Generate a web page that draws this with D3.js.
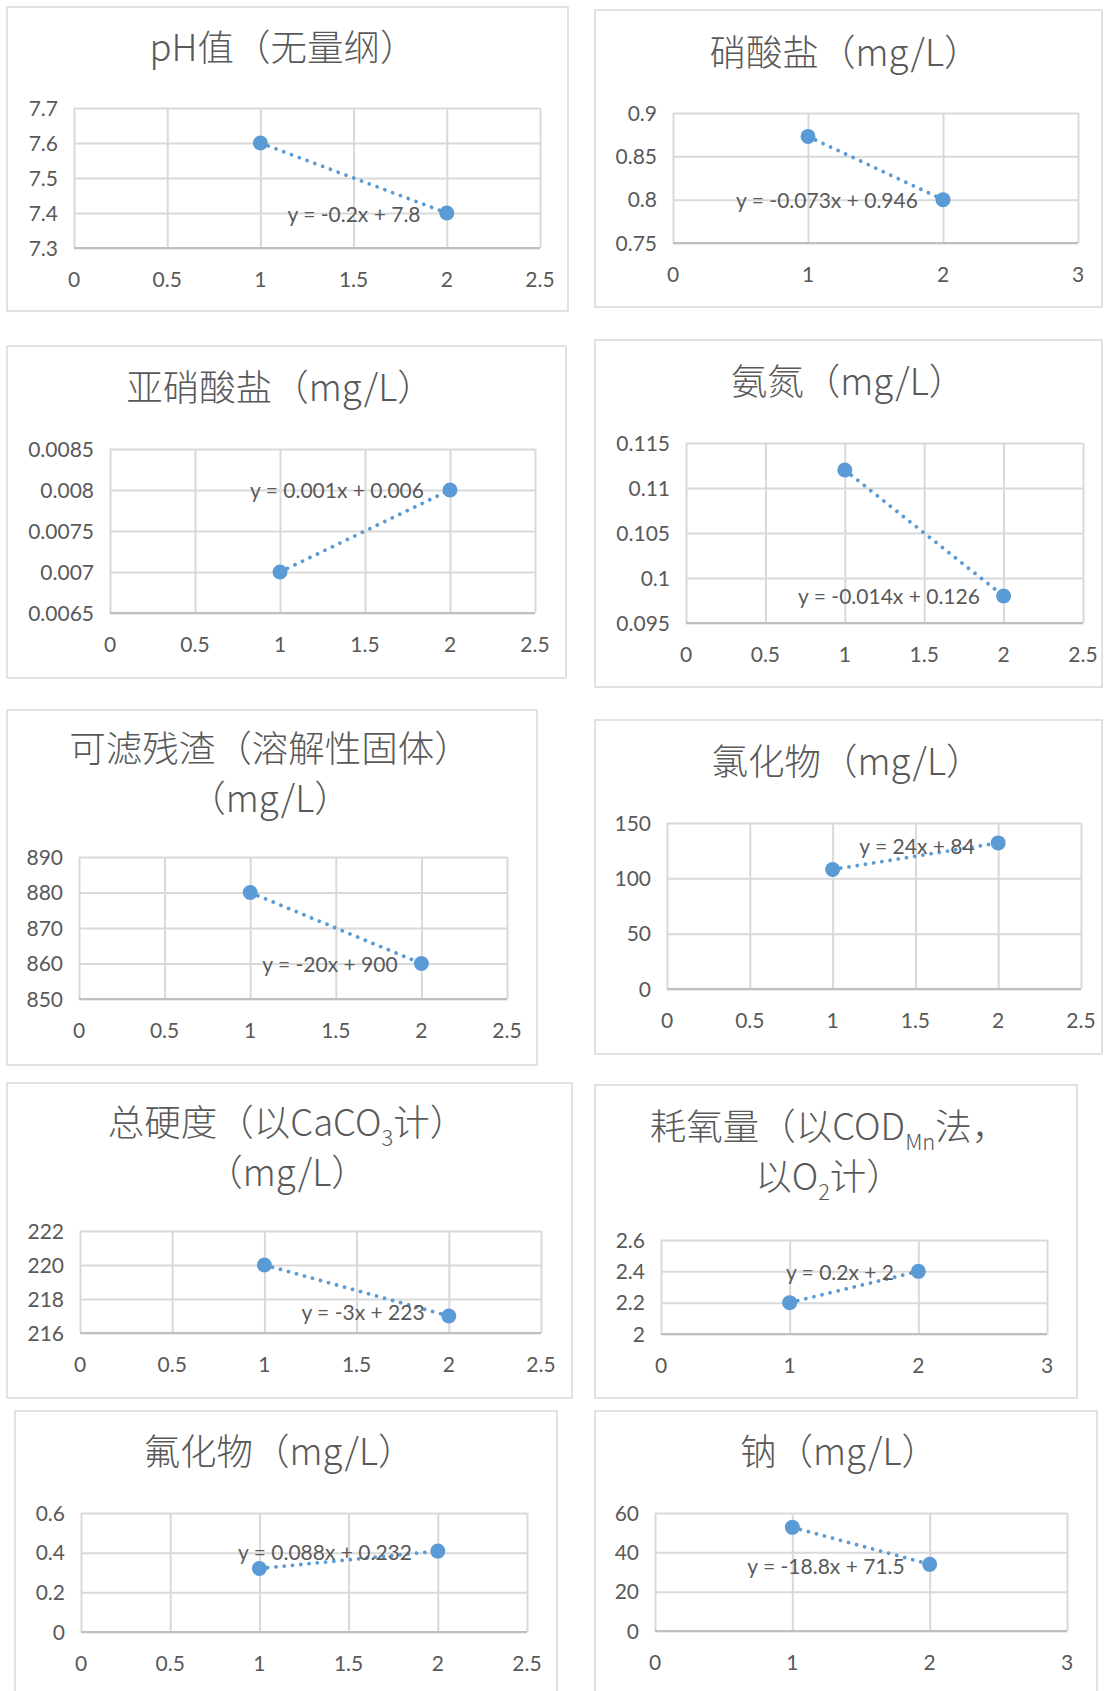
<!DOCTYPE html>
<html>
<head>
<meta charset="utf-8">
<script src="https://cdn.jsdelivr.net/npm/d3@7"></script>
<style>
  html, body { margin: 0; padding: 0; background: #ffffff; }
  svg { display: block; }
</style>
</head>
<body>
<svg id="chart" width="1105" height="1691"></svg>
<script>
// ---------------- DATA ----------------
const titles = [
  ["pH值（无量纲）"],
  ["硝酸盐（mg/L）"],
  ["亚硝酸盐（mg/L）"],
  ["氨氮（mg/L）"],
  ["可滤残渣（溶解性固体）", "（mg/L）"],
  ["氯化物（mg/L）"],
  ["总硬度（以CaCO_{3}计）", "（mg/L）"],
  ["耗氧量（以COD_{Mn}法，", "以O_{2}计）"],
  ["氟化物（mg/L）"],
  ["钠（mg/L）"]
];
const xValues = [1, 2];
const yValues = [
  [7.6, 7.4],
  [0.873, 0.8],
  [0.007, 0.008],
  [0.112, 0.098],
  [880, 860],
  [108, 132],
  [220, 217],
  [2.2, 2.4],
  [0.32, 0.408],
  [52.7, 33.9]
];
const xTickSets = [
  [0, 0.5, 1, 1.5, 2, 2.5],
  [0, 1, 2, 3],
  [0, 0.5, 1, 1.5, 2, 2.5],
  [0, 0.5, 1, 1.5, 2, 2.5],
  [0, 0.5, 1, 1.5, 2, 2.5],
  [0, 0.5, 1, 1.5, 2, 2.5],
  [0, 0.5, 1, 1.5, 2, 2.5],
  [0, 1, 2, 3],
  [0, 0.5, 1, 1.5, 2, 2.5],
  [0, 1, 2, 3]
];
const yTickSets = [
  [7.3, 7.4, 7.5, 7.6, 7.7],
  [0.75, 0.8, 0.85, 0.9],
  [0.0065, 0.007, 0.0075, 0.008, 0.0085],
  [0.095, 0.1, 0.105, 0.11, 0.115],
  [850, 860, 870, 880, 890],
  [0, 50, 100, 150],
  [216, 218, 220, 222],
  [2, 2.2, 2.4, 2.6],
  [0, 0.2, 0.4, 0.6],
  [0, 20, 40, 60]
];
const equations = [
  "y = -0.2x + 7.8",
  "y = -0.073x + 0.946",
  "y = 0.001x + 0.006",
  "y = -0.014x + 0.126",
  "y = -20x + 900",
  "y = 24x + 84",
  "y = -3x + 223",
  "y = 0.2x + 2",
  "y = 0.088x + 0.232",
  "y = -18.8x + 71.5"
];

// ---------------- LAYOUT (pixels) ----------------
const layout = [
  {box:[7,7,568,311],     plot:[74,108,540,248],   tcx:283, tcy:[48],        eq:[354,214]},
  {box:[595,10,1102,307], plot:[673,113,1078,243], tcx:845, tcy:[53],        eq:[827,200]},
  {box:[7,346,566,678],   plot:[110,449,535,613],  tcx:280, tcy:[388],       eq:[337,490]},
  {box:[595,340,1102,687],plot:[686,443,1083,623], tcx:848, tcy:[382],       eq:[889,596]},
  {box:[7,710,537,1065],  plot:[79,857,507,999],   tcx:270, tcy:[749,799],   eq:[330,964]},
  {box:[595,720,1102,1054],plot:[667,823,1081,989],tcx:847, tcy:[762],       eq:[917,846]},
  {box:[7,1083,572,1398], plot:[80,1231,541,1333], tcx:287, tcy:[1123,1173], eq:[363,1312]},
  {box:[595,1085,1077,1398],plot:[661,1240,1047,1334],tcx:829, tcy:[1127,1177], eq:[840,1272]},
  {box:[15,1411,557,1720], plot:[81,1513,527,1632], tcx:279, tcy:[1452],      eq:[325,1552]},
  {box:[595,1411,1097,1720],plot:[655,1513,1067,1631],tcx:839, tcy:[1452],    eq:[826,1566]}
];

const COLOR = "#5B9BD5";
const GRID = "#D9D9D9";
const TEXT = "#595959";
const NUMFONT = "Lato, 'Open Sans', sans-serif";
const CJKFONT = "'Noto Sans CJK SC', 'Noto Sans', sans-serif";
const TITLE_FS = 36.5;
const TICK_FS = 21;
const EQ_FS = 21;

const svg = d3.select("#chart");
svg.append("rect").attr("width", 1105).attr("height", 1691).attr("fill", "#fff");

// appends a line of text (with _{sub} markup) to a <text>, starting a new line at (x, y)
function addRichLine(textSel, str, fs, x0, y0) {
  const parts = str.split(/(_\{[^}]*\})/).filter(s => s.length);
  let first = true, shifted = false;
  parts.forEach(p => {
    const sub = p.match(/^_\{([^}]*)\}$/);
    const ts = textSel.append("tspan");
    if (first) { ts.attr("x", x0).attr("y", y0); first = false; }
    if (sub) {
      ts.attr("font-size", fs * 0.6).attr("dy", fs * 0.27).text(sub[1]);
      shifted = true;
    } else {
      if (shifted) { ts.attr("dy", -fs * 0.27); shifted = false; }
      ts.text(p);
    }
  });
}

titles.forEach((tLines, i) => {
  const L = layout[i];
  const g = svg.append("g");
  const [bx0, by0, bx1, by1] = L.box;
  g.append("rect")
    .attr("x", bx0).attr("y", by0)
    .attr("width", bx1 - bx0).attr("height", by1 - by0)
    .attr("fill", "#fff").attr("stroke", GRID).attr("stroke-width", 1.5);

  // title (one text element, one line per entry)
  const t = g.append("text")
    .attr("text-anchor", "middle")
    .attr("font-family", CJKFONT)
    .attr("font-weight", 300)
    .attr("font-size", TITLE_FS)
    .attr("fill", TEXT);
  tLines.forEach((line, li) => {
    addRichLine(t, line, TITLE_FS, L.tcx, L.tcy[li] + TITLE_FS * 0.36);
  });

  const [pl, pt, pr, pb] = L.plot;
  const xt = xTickSets[i], yt = yTickSets[i];
  const x = d3.scaleLinear().domain([xt[0], xt[xt.length - 1]]).range([pl, pr]);
  const y = d3.scaleLinear().domain([yt[0], yt[yt.length - 1]]).range([pb, pt]);

  // gridlines via axes
  const gx = g.append("g").attr("transform", `translate(0,${pb})`)
    .call(d3.axisBottom(x).tickValues(xt).tickSize(-(pb - pt)).tickFormat(""));
  gx.select(".domain").remove();
  gx.selectAll("line").attr("stroke", GRID).attr("stroke-width", 2);

  const gy = g.append("g").attr("transform", `translate(${pl},0)`)
    .call(d3.axisLeft(y).tickValues(yt).tickSize(-(pr - pl)).tickFormat(""));
  gy.select(".domain").remove();
  gy.selectAll("line").attr("stroke", GRID).attr("stroke-width", 2);

  // bottom axis line
  g.append("line")
    .attr("x1", x(xt[0])).attr("x2", x(xt[xt.length - 1]))
    .attr("y1", y(yt[0])).attr("y2", y(yt[0]))
    .attr("stroke", "#BFBFBF").attr("stroke-width", 2);

  // tick labels
  const fmt = v => String(+v.toPrecision(6));
  g.append("g").selectAll("text").data(xt).join("text")
    .attr("x", d => x(d))
    .attr("y", pb + 31 + TICK_FS * 0.36)
    .attr("text-anchor", "middle")
    .attr("font-family", NUMFONT).attr("font-size", TICK_FS)
    .attr("fill", TEXT)
    .text(fmt);
  g.append("g").selectAll("text").data(yt).join("text")
    .attr("x", pl - 16)
    .attr("y", d => y(d) + TICK_FS * 0.36)
    .attr("text-anchor", "end")
    .attr("font-family", NUMFONT).attr("font-size", TICK_FS)
    .attr("fill", TEXT)
    .text(fmt);

  const pts = xValues.map((xv, k) => [xv, yValues[i][k]]);

  // trendline (dotted)
  g.append("path")
    .datum(pts)
    .attr("d", d3.line().x(d => x(d[0])).y(d => y(d[1])))
    .attr("fill", "none")
    .attr("stroke", COLOR)
    .attr("stroke-width", 3.8)
    .attr("stroke-linecap", "round")
    .attr("stroke-dasharray", "0.01 8.3");

  // equation label
  g.append("text")
    .attr("x", L.eq[0])
    .attr("y", L.eq[1] + EQ_FS * 0.36)
    .attr("text-anchor", "middle")
    .attr("font-family", NUMFONT).attr("font-size", EQ_FS)
    .attr("fill", TEXT)
    .text(equations[i]);

  // markers
  g.append("g").selectAll("circle").data(pts).join("circle")
    .attr("cx", d => x(d[0]))
    .attr("cy", d => y(d[1]))
    .attr("r", 7.5)
    .attr("fill", COLOR);
});
</script>
</body>
</html>
